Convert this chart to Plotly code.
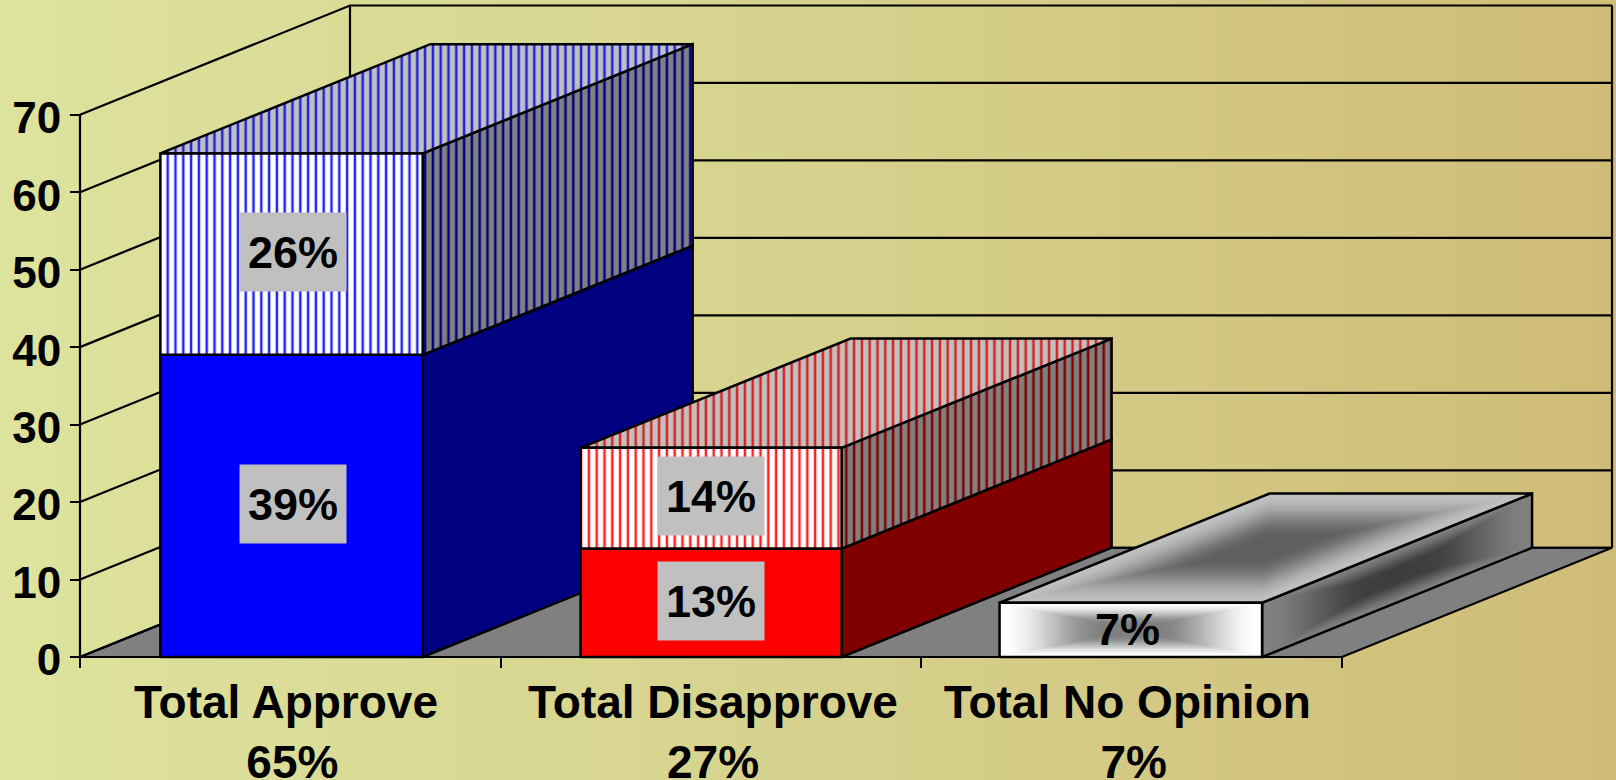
import plotly.graph_objects as go

# --- Chart values ---
categories = ["Total Approve\u00a0", "Total Disapprove", "Total No Opinion\u00a0"]
totals = ["65%", "27%", "7%"]
lower_values = [39, 14, 7]
upper_values = [26, 13, 0]
lower_labels = ["39%", "13%", "7%"]
upper_labels = ["26%", "14%", ""]
y_ticks = [0, 10, 20, 30, 40, 50, 60, 70]
bg_z = [[0, 0.5, 1], [0, 0.5, 1]]

# --- Style and geometry of the fake 3D ---
FONT = "Liberation Sans, Arial, sans-serif"
WIDTH, HEIGHT = 1616, 780
AXIS_LEFT, AXIS_BOTTOM = 80, 657      # pixels where the front axes sit
PX_PER_CAT, PX_PER_VAL = 420.67, 7.747
DEPTH_X, DEPTH_Y = 0.6418, 14.1       # oblique offset, in axis units
BAR_LEFT = [0.191, 1.19, 2.186]       # bars are not quite evenly placed in the original
BAR_RIGHT = [0.8146, 1.8105, 2.81]
LABEL_SHIFT = [3, 0, -4]
LINE = dict(color="black", width=2.5)
GRID = dict(color="black", width=2.2)
HATCH = dict(size=7.8, solidity=0.32, shape="|", fillmode="replace")

x_range = [-AXIS_LEFT / PX_PER_CAT, (WIDTH - AXIS_LEFT) / PX_PER_CAT]
y_range = [(AXIS_BOTTOM - HEIGHT) / PX_PER_VAL, AXIS_BOTTOM / PX_PER_VAL]

fig = go.Figure()


def add_poly(corners, color=None, pattern=None, line=None):
    xs = [c[0] for c in corners] + [corners[0][0]]
    ys = [c[1] for c in corners] + [corners[0][1]]
    kwargs = dict(x=xs, y=ys, mode="lines", hoverinfo="skip", showlegend=False)
    kwargs["line"] = line if line else dict(width=0, color="rgba(0,0,0,0)")
    if color or pattern:
        kwargs["fill"] = "toself"
        kwargs["fillcolor"] = color or "rgba(0,0,0,0)"
    if pattern:
        kwargs["fillpattern"] = pattern
    fig.add_trace(go.Scatter(**kwargs))


def add_path(xs, ys):
    fig.add_trace(go.Scatter(x=xs, y=ys, mode="lines", line=GRID, hoverinfo="skip", showlegend=False))


def lerp_color(c1, c2, t):
    t = min(1, t / 0.8)
    t = t * t * (3 - 2 * t)  # smoothstep, softens the dark middle
    r, g, b = [round(a + (b - a) * t) for a, b in zip(c1, c2)]
    return f"rgb({r},{g},{b})"


def add_path_gradient(corners, edge, centre, steps=40):
    # nested copies shrinking to the middle, like an office "path" gradient
    cx = sum(c[0] for c in corners) / 4
    cy = sum(c[1] for c in corners) / 4
    for i in range(steps):
        t = i / steps
        shrunk = [(cx + (c[0] - cx) * (1 - t), cy + (c[1] - cy) * (1 - t)) for c in corners]
        add_poly(shrunk, color=lerp_color(edge, centre, t))
    add_poly(corners, line=LINE)


def faces(i, y0, y1):
    x0, x1 = BAR_LEFT[i], BAR_RIGHT[i]
    front = [(x0, y0), (x1, y0), (x1, y1), (x0, y1)]
    side = [(x1, y0), (x1 + DEPTH_X, y0 + DEPTH_Y), (x1 + DEPTH_X, y1 + DEPTH_Y), (x1, y1)]
    top = [(x0, y1), (x1, y1), (x1 + DEPTH_X, y1 + DEPTH_Y), (x0 + DEPTH_X, y1 + DEPTH_Y)]
    return front, side, top


# --- Background gradient ---
fig.add_trace(go.Heatmap(
    x=[x_range[0], sum(x_range) / 2, x_range[1]],
    y=y_range,
    z=bg_z,
    zsmooth="best",
    showscale=False,
    hoverinfo="skip",
    colorscale=[[0, "#DDE39D"], [0.5, "#D6D28D"], [1, "#CFBC78"]],
))

# --- Floor and walls ---
n = len(categories)
add_poly([(0, 0), (DEPTH_X, DEPTH_Y), (n + DEPTH_X, DEPTH_Y), (n, 0)], color="#808080", line=GRID)
for v in y_ticks:
    add_path([0, DEPTH_X, n + DEPTH_X], [v, v + DEPTH_Y, v + DEPTH_Y])
add_path([DEPTH_X, DEPTH_X], [DEPTH_Y, y_ticks[-1] + DEPTH_Y])
add_path([n + DEPTH_X, n + DEPTH_X], [DEPTH_Y, y_ticks[-1] + DEPTH_Y])
add_path([0, 0], [0, y_ticks[-1]])
add_path([0, n], [0, 0])

# --- Blue bar ---
front, side, top = faces(0, 0, lower_values[0])
add_poly(side, color="#000080", line=LINE)
add_poly(top, color="#C0C0C0", line=LINE)
add_poly(front, color="#0000FF", line=LINE)
front, side, top = faces(0, lower_values[0], lower_values[0] + upper_values[0])
add_poly(side, pattern=dict(fgcolor="#000080", bgcolor="#808080", **HATCH), line=LINE)
add_poly(top, pattern=dict(fgcolor="#2020D8", bgcolor="#C0C0C0", **HATCH), line=LINE)
add_poly(front, pattern=dict(fgcolor="#2020FF", bgcolor="#FFFFFF", **HATCH), line=LINE)

# --- Red bar ---
front, side, top = faces(1, 0, lower_values[1])
add_poly(side, color="#800000", line=LINE)
add_poly(top, color="#C0C0C0", line=LINE)
add_poly(front, color="#FF0000", line=LINE)
front, side, top = faces(1, lower_values[1], lower_values[1] + upper_values[1])
add_poly(side, pattern=dict(fgcolor="#800000", bgcolor="#808080", **HATCH), line=LINE)
add_poly(top, pattern=dict(fgcolor="#D82020", bgcolor="#C0C0C0", **HATCH), line=LINE)
add_poly(front, pattern=dict(fgcolor="#FF2020", bgcolor="#FFFFFF", **HATCH), line=LINE)

# --- Grey gradient bar ---
front, side, top = faces(2, 0, lower_values[2])
add_path_gradient(side, (128, 128, 128), (62, 62, 62))
add_path_gradient(top, (192, 192, 192), (96, 96, 96))
add_path_gradient(front, (255, 255, 255), (128, 128, 128))

# --- Data labels ---
for i in range(n):
    boxed = bool(upper_labels[i])
    fig.add_annotation(
        x=(i + 0.5), y=lower_values[i] / 2, text=lower_labels[i], showarrow=False,
        xshift=LABEL_SHIFT[i], yshift=2 if boxed else 0,
        font=dict(family=FONT, size=45, color="black", weight="bold"),
        bgcolor="#C0C0C0" if boxed else None,
        width=106 if boxed else None,
        height=78 if boxed else None,
        borderpad=0,
    )
    if boxed:
        fig.add_annotation(
            x=(i + 0.5), y=lower_values[i] + upper_values[i] / 2, text=upper_labels[i], showarrow=False,
            xshift=LABEL_SHIFT[i], yshift=2,
            font=dict(family=FONT, size=45, color="black", weight="bold"),
            bgcolor="#C0C0C0", width=106, height=78, borderpad=0,
        )

# --- Layout ---
fig.update_layout(
    width=WIDTH,
    height=HEIGHT,
    autosize=False,
    margin=dict(l=0, r=0, t=0, b=0, autoexpand=False),
    showlegend=False,
    paper_bgcolor="#D6D28D",
    plot_bgcolor="rgba(0,0,0,0)",
    font=dict(family=FONT, size=44, color="black", weight="bold"),
    xaxis=dict(
        range=x_range,
        anchor="free",
        position=(HEIGHT - AXIS_BOTTOM) / HEIGHT,
        automargin=False,
        tickvals=[i + 0.5 for i in range(n)],
        ticktext=[f"{c}<br>{t}" for c, t in zip(categories, totals)],
        tickfont=dict(size=46),
        ticklabelstandoff=14,
        ticklabelshift=2,
        ticks="",
        showgrid=False,
        zeroline=False,
        tickangle=0,
        minor=dict(tickvals=list(range(n + 1)), ticks="outside", ticklen=10, tickwidth=2,
                   tickcolor="black", showgrid=False),
    ),
    yaxis=dict(
        range=y_range,
        anchor="free",
        position=AXIS_LEFT / WIDTH,
        automargin=False,
        tickvals=y_ticks,
        ticks="outside",
        ticklen=10,
        tickwidth=2,
        tickcolor="black",
        ticklabelshift=3,
        showgrid=False,
        zeroline=False,
    ),
)

fig.write_html("out.html", config=dict(displayModeBar=False),
               post_script="document.body.style.margin='0';")
